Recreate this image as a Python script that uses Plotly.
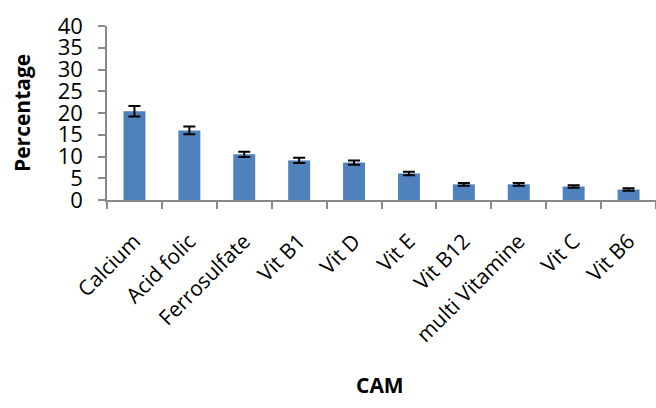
import plotly.graph_objects as go

categories = ["Calcium", "Acid folic", "Ferrosulfate", "Vit B1", "Vit D", "Vit E",
              "Vit B12", "multi Vitamine", "Vit C", "Vit B6"]
values = [20.4, 16.0, 10.5, 9.1, 8.6, 6.1, 3.6, 3.6, 3.1, 2.4]
errors = [1.2, 0.9, 0.6, 0.6, 0.5, 0.4, 0.3, 0.3, 0.3, 0.3]
y_ticks = [0, 5, 10, 15, 20, 25, 30, 35, 40]

font = "Open Sans"
axis_col = "#898989"

L, R, T, B = 107, 0, 26, 208
W, H = 656, 408
pw = W - L - R
ph = H - T - B

fig = go.Figure(go.Bar(
    x=categories, y=values,
    marker=dict(color="#4F81BD", line=dict(width=0)),
    error_y=dict(type="data", array=errors, color="black", thickness=2, width=6),
))

fig.update_layout(
    width=W, height=H,
    margin=dict(l=L, r=R, t=T, b=B, autoexpand=False),
    paper_bgcolor="white", plot_bgcolor="white",
    bargap=0.6,
    showlegend=False,
    font=dict(family=font, color="black"),
    xaxis=dict(
        showline=True, linecolor=axis_col, linewidth=1.5,
        ticks="outside", tickcolor=axis_col, ticklen=7, tickwidth=1.5,
        tickson="boundaries", tickangle=-45,
        tickfont=dict(size=21, family=font),
        ticklabelstandoff=19,
        showgrid=False, automargin=False,
    ),
    yaxis=dict(
        range=[0, 40], tickvals=y_ticks,
        showline=True, linecolor=axis_col, linewidth=1.5,
        ticks="outside", tickcolor=axis_col, ticklen=7, tickwidth=1.5,
        tickfont=dict(size=22, family=font),
        ticklabelstandoff=11,
        showgrid=False, zeroline=False, automargin=False,
    ),
    annotations=[
        dict(text="<b>Percentage</b>", x=(22 - L) / pw, y=(H - B - 113) / ph,
             xref="paper", yref="paper", xanchor="center", yanchor="middle",
             showarrow=False, textangle=-90, font=dict(size=21, family=font)),
        dict(text="<b>CAM</b>", x=(380 - L) / pw, y=(H - B - 385) / ph,
             xref="paper", yref="paper", xanchor="center", yanchor="middle",
             showarrow=False, font=dict(size=21, family=font)),
    ],
)

fig.write_html("out.html", config={"displayModeBar": False},
               post_script="document.body.style.margin='0';")
